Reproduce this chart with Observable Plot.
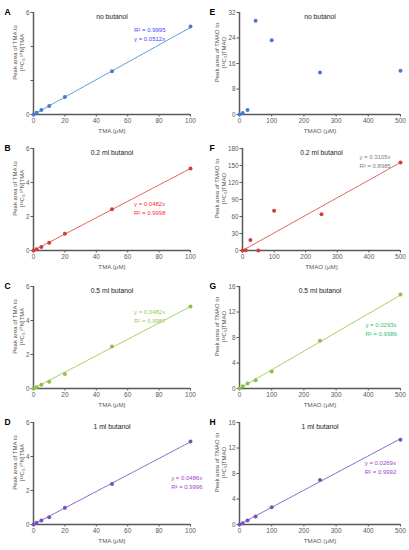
<!DOCTYPE html>
<html><head><meta charset="utf-8">
<script src="https://cdn.jsdelivr.net/npm/d3@7"></script>
<script src="https://cdn.jsdelivr.net/npm/@observablehq/plot@0.6"></script>
<style>
body{margin:0;background:#fff;}
#fig{position:relative;width:409px;height:550px;background:#fff;}
.panel{position:absolute;}
</style></head><body><div id="fig"></div>
<script>
// ---- data ----
const tmaConc = [0, 2, 5, 10, 20, 50, 100];
const tmaoConc = [0, 10, 25, 50, 100, 250, 500];
const tmaNoButanol = [0, 0.1, 0.26, 0.5, 1.03, 2.54, 5.17];
const tma02Butanol = [0, 0.08, 0.21, 0.45, 0.98, 2.42, 4.82];
const tma05Butanol = [0, 0.08, 0.22, 0.39, 0.86, 2.47, 4.82];
const tma1Butanol = [0, 0.1, 0.24, 0.43, 0.98, 2.38, 4.88];
const tmaoNoButanol = [0, 0.5, 1.4, 29.4, 23.3, 13.2, 13.7];
const tmao02Butanol = [0, 0.5, 18.5, 0, 70, 64, 155.5];
const tmao05Butanol = [0, 0.35, 0.78, 1.3, 2.65, 7.5, 14.75];
const tmao1Butanol = [0, 0.2, 0.63, 1.26, 2.72, 7.0, 13.3];

const panelLetters = ["A", "B", "C", "D", "E", "F", "G", "H"];
const panelTitles = ["no butanol", "0.2 ml butanol", "0.5 ml butanol", "1 ml butanol",
                     "no butanol", "0.2 ml butanol", "0.5 ml butanol", "1 ml butanol"];
const slopes = [0.0512, 0.0482, 0.0482, 0.0486, null, 0.3105, 0.0293, 0.0269];
const fitLabels = [
  ["R² = 0.9995", "y = 0.0512x"],
  ["y = 0.0482x", "R² = 0.9998"],
  ["y = 0.0482x", "R² = 0.9987"],
  ["y = 0.0486x", "R² = 0.9996"],
  null,
  ["y = 0.3105x", "R² = 0.8985"],
  ["y = 0.0293x", "R² = 0.9989"],
  ["y = 0.0269x", "R² = 0.9992"]
];
const tmaXTicks = [0, 20, 40, 60, 80, 100];
const tmaoXTicks = [0, 100, 200, 300, 400, 500];
const tmaYTicks = [0, 2, 4, 6];
const tmaYTickLabelsA = [0, 6];
const tmaoNoButanolYTicks = [0, 8, 16, 24, 32];
const tmao02YTicks = [0, 30, 60, 90, 120, 150, 180];
const tmaoYTicks = [0, 4, 8, 12, 16];
const tmaXLabel = "TMA (μM)";
const tmaoXLabel = "TMAO (μM)";
const tmaYLabel = "Peak area of TMA to\n[¹³C₃,¹⁵N]TMA";
const tmaoYLabel = "Peak area of TMAO to\n[¹³C₃]TMAO";

// ---- styling / layout ----
const axisColor = "#595959";
const font = "'Liberation Sans', Arial, sans-serif";
const panels = [
  {y: tmaNoButanol, x: tmaConc, xTicks: tmaXTicks, yTicks: tmaYTicks, yLabels: tmaYTickLabelsA, ymax: 6, xLab: tmaXLabel, yLab: tmaYLabel,
   dot: "#4a7bd0", line: "#5b9bd5", ann: "#4646ff", annPos: [64, 4.74]},
  {y: tma02Butanol, x: tmaConc, xTicks: tmaXTicks, yTicks: tmaYTicks, ymax: 6, xLab: tmaXLabel, yLab: tmaYLabel,
   dot: "#cf3e38", line: "#e0605a", ann: "#ff2b2b", annPos: [64, 2.5]},
  {y: tma05Butanol, x: tmaConc, xTicks: tmaXTicks, yTicks: tmaYTicks, ymax: 6, xLab: tmaXLabel, yLab: tmaYLabel,
   dot: "#8fbf4a", line: "#a9cc60", ann: "#92d050", annPos: [64, 4.29]},
  {y: tma1Butanol, x: tmaConc, xTicks: tmaXTicks, yTicks: tmaYTicks, ymax: 6, xLab: tmaXLabel, yLab: tmaYLabel,
   dot: "#7a52bf", line: "#8a66c8", ann: "#9b3fd0", annPos: [87.7, 2.52]},
  {y: tmaoNoButanol, x: tmaoConc, xTicks: tmaoXTicks, yTicks: tmaoNoButanolYTicks, ymax: 32, xLab: tmaoXLabel, yLab: tmaoYLabel,
   dot: "#4a7bd0", line: "#5b9bd5", ann: "#4646ff", annPos: null},
  {y: tmao02Butanol, x: tmaoConc, xTicks: tmaoXTicks, yTicks: tmao02YTicks, ymax: 180, xLab: tmaoXLabel, yLab: tmaoYLabel,
   dot: "#cf3e38", line: "#e0605a", ann: "#7f7f7f", annPos: [370, 158], ml: 37},
  {y: tmao05Butanol, x: tmaoConc, xTicks: tmaoXTicks, yTicks: tmaoYTicks, ymax: 16, xLab: tmaoXLabel, yLab: tmaoYLabel,
   dot: "#8fbf4a", line: "#a9cc60", ann: "#2fc46a", annPos: [391, 9.41]},
  {y: tmao1Butanol, x: tmaoConc, xTicks: tmaoXTicks, yTicks: tmaoYTicks, ymax: 16, xLab: tmaoXLabel, yLab: tmaoYLabel,
   dot: "#7a52bf", line: "#8a66c8", ann: "#9b3fd0", annPos: [389, 9.02]}
];
const rowTops = [0, 136, 274, 410];

const fig = document.getElementById("fig");
panels.forEach((p, i) => {
  const col = i < 4 ? 0 : 1;
  const row = i % 4;
  const width = col === 0 ? 205 : 204;
  const marginLeft = p.ml ?? (col === 0 ? 33 : 34);
  const marginRight = col === 0 ? 15 : 9;
  const marginTop = 12, marginBottom = 23;
  const yLabelX = col === 0 ? 17.5 : 14.5;
  const xmax = p.xTicks[p.xTicks.length - 1];
  const pts = p.x.map((x, j) => ({x, y: p.y[j]}));
  const marks = [
    Plot.axisX({ticks: p.xTicks, tickSize: 2.5, tickPadding: 1.5, label: null, color: axisColor, fontSize: 6.5}),
    Plot.axisY({ticks: p.yTicks, tickSize: 2.5, tickPadding: 1.5, label: null, color: axisColor, fontSize: 6.3,
      tickFormat: d => (p.yLabels && !p.yLabels.includes(d)) ? "" : String(d)}),
    Plot.ruleY([0], {stroke: axisColor, strokeWidth: 1.5}),
    Plot.ruleX([0], {stroke: axisColor, strokeWidth: 1.5})
  ];
  if (slopes[i] != null) {
    marks.push(Plot.line([0, xmax], {x: d => d, y: d => slopes[i] * d, stroke: p.line, strokeWidth: 1, strokeDasharray: "2,0.8"}));
  }
  marks.push(Plot.dot(pts, {x: "x", y: "y", r: 2, fill: p.dot, stroke: "none"}));
  if (fitLabels[i]) {
    marks.push(Plot.text([fitLabels[i].join("\n")], {x: () => p.annPos[0], y: () => p.annPos[1], text: d => d,
      textAnchor: "start", lineAnchor: "middle", fill: p.ann, fontSize: 6, lineHeight: 1.45}));
  }
  marks.push(Plot.text([panelTitles[i]], {frameAnchor: "top", dy: 4, lineAnchor: "middle", text: d => d, fill: "#222", fontSize: 6.8}));
  marks.push(Plot.text([panelLetters[i]], {frameAnchor: "top-left", dx: 4 - marginLeft, textAnchor: "start", lineAnchor: "middle",
    text: d => d, fill: "#000", fontWeight: "bold", fontSize: 8.5}));
  marks.push(Plot.text([p.xLab], {frameAnchor: "bottom", dy: 17, lineAnchor: "middle", text: d => d, fill: axisColor, fontSize: 6.2}));
  marks.push(Plot.text([p.yLab], {frameAnchor: "left", dx: yLabelX - marginLeft, dy: -11, rotate: -90, textAnchor: "middle", lineAnchor: "middle",
    text: d => d, fill: "#505050", fontSize: 6, lineHeight: 1.25}));

  const chart = Plot.plot({
    width, height: 137, marginLeft, marginRight, marginTop, marginBottom,
    x: {domain: [0, xmax]},
    y: {domain: [0, p.ymax]},
    style: {fontFamily: font, background: "white", overflow: "visible"},
    marks
  });
  const div = document.createElement("div");
  div.className = "panel";
  div.style.left = (col === 0 ? 0 : 205) + "px";
  div.style.top = rowTops[row] + "px";
  div.appendChild(chart);
  fig.appendChild(div);
});
</script>
</body></html>
